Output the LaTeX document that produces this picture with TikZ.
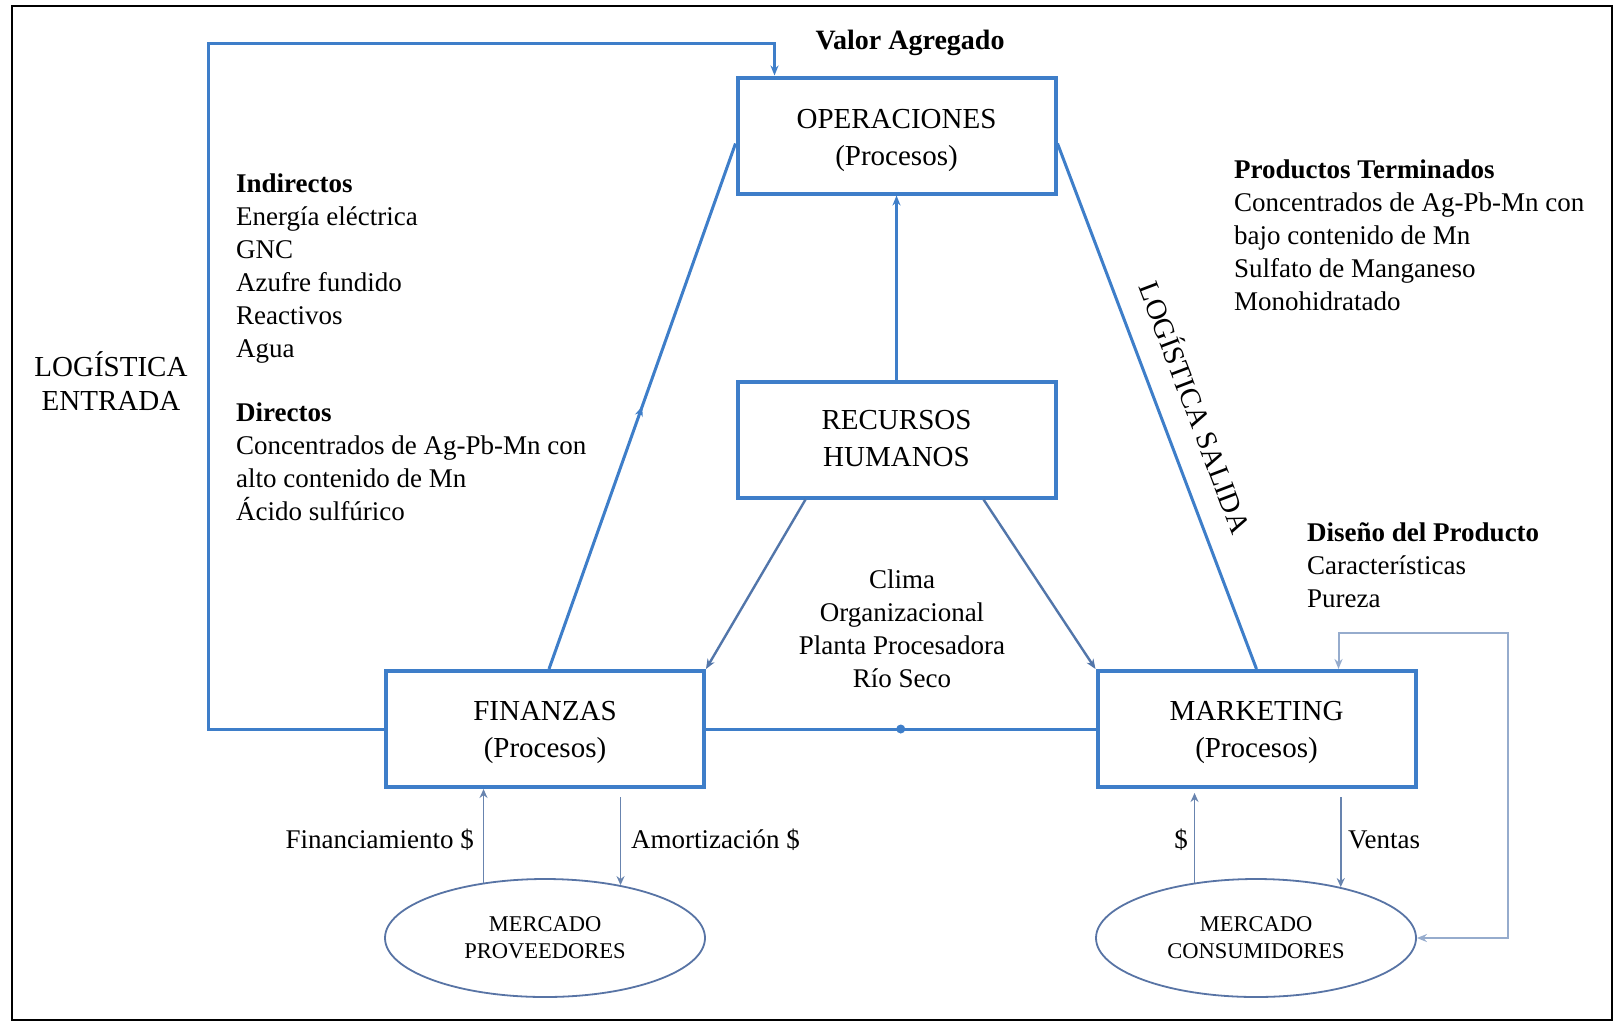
\documentclass[tikz,border=0pt]{standalone}
\usepackage{fontspec}
\setmainfont{Liberation Serif}
\usetikzlibrary{arrows.meta,calc,decorations.markings,shapes.geometric}

\definecolor{boxblue}{RGB}{62,126,201}
\definecolor{diagblue}{RGB}{82,118,170}
\definecolor{thinblue}{RGB}{104,132,175}
\definecolor{loopblue}{RGB}{150,172,205}
\definecolor{ellblue}{RGB}{88,116,165}

\tikzset{
  procbox/.style={draw=boxblue, line width=4pt, minimum width=318pt, minimum height=116pt,
    inner sep=0pt},
  boxtext/.style={inner sep=0pt, align=center, font=\fontsize{29}{37}\selectfont},
  market/.style={ellipse, draw=ellblue, line width=1.8pt, minimum width=320pt, minimum height=118pt,
    inner sep=0pt, align=center, font=\fontsize{22.5}{27}\selectfont},
  txt/.style={inner sep=0pt, align=left, font=\fontsize{27}{33}\selectfont},
  ctxt/.style={inner sep=0pt, align=center, font=\fontsize{27}{33}\selectfont},
  bigtxt/.style={inner sep=0pt, align=center, font=\fontsize{29}{34}\selectfont},
  conn/.style={draw=boxblue, line width=3pt},
  diag/.style={draw=diagblue, line width=2.4pt},
  thinarrow/.style={draw=thinblue, line width=1.6pt, -{Stealth[length=9pt,width=8pt]}},
  loopline/.style={draw=loopblue, line width=2pt},
  tip/.style={-{Stealth[length=10pt,width=8pt]}},
  midup/.style={postaction={decorate}, decoration={markings,
    mark=at position 0.5 with {\arrow{Stealth[length=10pt,width=8pt]}}}},
  middot/.style={postaction={decorate}, decoration={markings,
    mark=at position 0.5 with {\fill[boxblue] circle (4.5pt);}}}
}

\begin{document}
\begin{tikzpicture}[x=1pt,y=-1pt]
\useasboundingbox (0,0) rectangle (1616,1026);
\fill[white] (0,0) rectangle (1616,1026);
\draw[black, line width=1.5pt] (12,6) rectangle (1612,1020);

% process boxes and their titles
\node[procbox] (ope) at (896.5,135.5) {};
\node[procbox] (rrh) at (896.5,439.5) {};
\node[procbox] (fin) at (545,729) {};
\node[procbox] (mkt) at (1256.5,729) {};
\node[boxtext] (opetxt) at ($(ope)+(0,4.5)$) {OPERACIONES\\(Procesos)};
\node[boxtext] (rrhtxt) at ($(rrh)+(0,-1)$) {RECURSOS\\HUMANOS};
\node[boxtext] (fintxt) at ($(fin)+(0,3)$) {FINANZAS\\(Procesos)};
\node[boxtext] (mkttxt) at ($(mkt)+(0,3)$) {MARKETING\\(Procesos)};

% markets
\node[market] (prov) at (545,938) {MERCADO\\PROVEEDORES};
\node[market] (cons) at (1256,938) {MERCADO\\CONSUMIDORES};

% texts
\node[inner sep=0pt, font=\fontsize{28}{33}\selectfont\bfseries] (valor) at (910,43) {Valor Agregado};
\node[bigtxt] (logent) at (111,381) {LOGÍSTICA\\ENTRADA};
\node[txt, anchor=west] (indir) at (236,268.5) {\textbf{Indirectos}\\Energía eléctrica\\GNC\\Azufre fundido\\Reactivos\\Agua};
\node[txt, anchor=west] (dir) at (236,462) {\textbf{Directos}\\Concentrados de Ag-Pb-Mn con\\alto contenido de Mn\\Ácido sulfúrico};
\node[txt, anchor=west] (prod) at (1234,235) {\textbf{Productos Terminados}\\Concentrados de Ag-Pb-Mn con\\bajo contenido de Mn\\Sulfato de Manganeso\\Monohidratado};
\node[txt, anchor=west] (dis) at (1307,565) {\textbf{Diseño del Producto}\\Características\\Pureza};
\node[ctxt] (clima) at (902,628.5) {Clima\\Organizacional\\Planta Procesadora\\Río Seco};
\node[inner sep=0pt, font=\fontsize{29}{34}\selectfont, rotate=-69.2] (logsal) at (1197,407) {LOGÍSTICA SALIDA};
\node[txt, anchor=east] (finlbl) at (474,840) {Financiamiento \$};
\node[txt, anchor=west] (amolbl) at (631,840) {Amortización \$};
\node[txt, anchor=east] (pesolbl) at (1188,840) {\$};
\node[txt, anchor=west] (venlbl) at (1348,840) {Ventas};

% triangle of connectors
\draw[conn, midup] ($(fin.north)+(4,0)$) -- ($(ope.west)+(0,8)$);
\draw[conn] ($(ope.east)+(0,8)$) -- (mkt.north);
\draw[conn, middot] (fin.east) -- (mkt.west);
\draw[conn, tip] (rrh.north) -- (ope.south);
\draw[diag, tip] ($(rrh.south west)+(70,0)$) -- (fin.north east);
\draw[diag, tip] ($(rrh.south east)+(-74,0)$) -- (mkt.north west);

% inbound logistics loop
\coordinate (inloop) at (208,43);
\draw[conn, tip] (fin.west) -| (inloop) -| ($(ope.north west)+(39,0)$);

% market flows
\draw[thinarrow] (prov.138) -- (prov.138 |- fin.south);
\draw[thinarrow] ($(prov.35.7 |- fin.south)+(0,8)$) -- (prov.35.7);
\draw[thinarrow] (cons.138.9) -- ($(cons.138.9 |- mkt.south)+(0,4)$);
\draw[thinarrow] ($(cons.31 |- mkt.south)+(0,8)$) -- (cons.31);

% product design loop
\coordinate (loopr) at (1508,633);
\draw[loopline, {Stealth[length=10pt,width=8pt]}-{Stealth[length=10pt,width=8pt]}]
  (cons.east) -| (loopr) -| ($(mkt.north west)+(243,0)$);
\end{tikzpicture}
\end{document}
